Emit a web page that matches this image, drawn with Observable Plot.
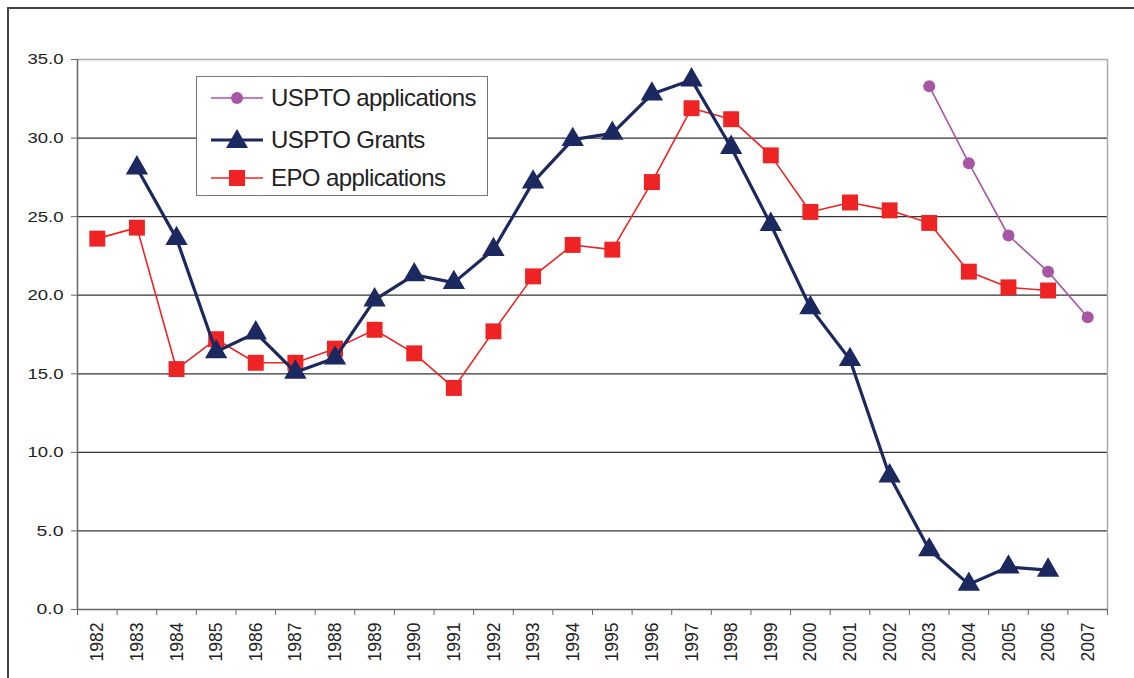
<!DOCTYPE html>
<html>
<head>
<meta charset="utf-8">
<script src="https://cdn.jsdelivr.net/npm/d3@7"></script>
<script src="https://cdn.jsdelivr.net/npm/@observablehq/plot@0.6"></script>
<style>
  html, body { margin: 0; padding: 0; background: #fff; overflow: hidden; }
  #wrap { position: relative; width: 1134px; height: 678px; overflow: hidden; font-family: Arial, "Liberation Sans", sans-serif; }
  #frame { position: absolute; left: 7px; top: 7px; width: 1200px; height: 800px; border: 2px solid #444; box-sizing: border-box; }
  #chart { position: absolute; left: 0; top: 0; }
  #legend { position: absolute; left: 196px; top: 76px; width: 292px; height: 120px; box-sizing: border-box;
            border: 1.5px solid #777; background: #fff; }
  .lrow { position: absolute; left: 14px; height: 30px; display: flex; align-items: center; }
  .lrow span { font-size: 24px; letter-spacing: -0.6px; color: #222; margin-left: 8px; white-space: nowrap; }
</style>
</head>
<body>
<div id="wrap">
  <div id="frame"></div>
  <div id="chart"></div>
  <div id="legend"></div>
</div>
<script>
const years = [1982,1983,1984,1985,1986,1987,1988,1989,1990,1991,1992,1993,1994,1995,1996,1997,1998,1999,2000,2001,2002,2003,2004,2005,2006,2007];
const usptoApplications = [null,null,null,null,null,null,null,null,null,null,null,null,null,null,null,null,null,null,null,null,null,33.3,28.4,23.8,21.5,18.6];
const usptoGrants = [null,28.1,23.6,16.4,17.6,15.1,16.0,19.7,21.3,20.8,22.9,27.2,29.9,30.3,32.8,33.7,29.4,24.5,19.2,15.9,8.5,3.8,1.6,2.7,2.5,null];
const epoApplications = [23.6,24.3,15.3,17.2,15.7,15.7,16.6,17.8,16.3,14.1,17.7,21.2,23.2,22.9,27.2,31.9,31.2,28.9,25.3,25.9,25.4,24.6,21.5,20.5,20.3,null];
const yTicks = [0,5,10,15,20,25,30,35];
const seriesNames = ["USPTO applications","USPTO Grants","EPO applications"];
const seriesColors = ["#a855a6","#1c2860","#ee2424"];

const toRows = (vals) => years.map((y, i) => ({year: y, value: vals[i]})).filter(d => d.value != null);
const apps = toRows(usptoApplications);
const grants = toRows(usptoGrants);
const epo = toRows(epoApplications);
const boundaries = [years[0] - 0.5, ...years.map(y => y + 0.5)];

const chart = Plot.plot({
  width: 1134,
  height: 678,
  marginLeft: 77,
  marginRight: 27,
  marginTop: 59,
  marginBottom: 69,
  style: {fontFamily: "Arial, 'Liberation Sans', sans-serif", background: "transparent", overflow: "visible"},
  x: {type: "linear", domain: [years[0] - 0.5, years[years.length - 1] + 0.5]},
  y: {domain: [0, 35]},
  marks: [
    Plot.ruleY(yTicks.filter(t => t > 0 && t < 35), {stroke: "#333", strokeWidth: 1.2}),
    Plot.ruleY([35], {stroke: "#aaa", strokeWidth: 1.5}),
    Plot.ruleX([boundaries[boundaries.length - 1]], {stroke: "#aaa", strokeWidth: 1.5}),
    Plot.ruleY([0], {stroke: "#666", strokeWidth: 1.5}),
    Plot.ruleX([boundaries[0]], {stroke: "#666", strokeWidth: 1.5}),
    Plot.axisY(yTicks, {tickSize: 6, tickPadding: 8, tickFormat: d => d.toFixed(1), fontSize: 15.5, stroke: "#666", color: "#222", label: null}),
    Plot.axisX(boundaries, {tickSize: 6, tickFormat: () => "", stroke: "#666", label: null}),
    Plot.axisX(years, {tickSize: 0, tickPadding: 13, tickRotate: -90, tickFormat: d => String(d), fontSize: 19, color: "#222", label: null}),
    Plot.line(epo, {x: "year", y: "value", stroke: seriesColors[2], strokeWidth: 1.6}),
    Plot.dot(epo, {x: "year", y: "value", symbol: "square", r: 9, fill: seriesColors[2], stroke: "none"}),
    Plot.line(grants, {x: "year", y: "value", stroke: seriesColors[1], strokeWidth: 3.2}),
    Plot.dot(grants, {x: "year", y: "value", symbol: "triangle", r: 8.3, fill: seriesColors[1], stroke: "none"}),
    Plot.line(apps, {x: "year", y: "value", stroke: seriesColors[0], strokeWidth: 1.6}),
    Plot.dot(apps, {x: "year", y: "value", symbol: "circle", r: 6, fill: seriesColors[0], stroke: "none"})
  ]
});
// stretch y tick labels horizontally and condense x tick labels like the reference
chart.querySelectorAll('g[aria-label="y-axis tick label"] text').forEach(t => {
  const n = t.textContent.length;
  t.setAttribute("textLength", n === 4 ? 36 : 27);
  t.setAttribute("lengthAdjust", "spacingAndGlyphs");
});
chart.querySelectorAll('g[aria-label="x-axis tick label"] text').forEach(t => {
  if (t.textContent.length === 4) {
    t.setAttribute("textLength", 39);
    t.setAttribute("lengthAdjust", "spacingAndGlyphs");
  }
});
document.getElementById("chart").appendChild(chart);

// Legend
const legend = document.getElementById("legend");
const symbols = [
  `<circle cx="26" cy="15" r="6" fill="${seriesColors[0]}"/>`,
  `<path d="M26,4 L37,23 L15,23 Z" fill="${seriesColors[1]}"/>`,
  `<rect x="18" y="7" width="16" height="16" fill="${seriesColors[2]}"/>`
];
const widths = [1.6, 3.2, 1.6];
const tops = [6, 48, 86];
seriesNames.forEach((name, i) => {
  const row = document.createElement("div");
  row.className = "lrow";
  row.style.top = tops[i] + "px";
  row.innerHTML = `<svg width="52" height="30"><line x1="0" y1="15" x2="52" y2="15" stroke="${seriesColors[i]}" stroke-width="${widths[i]}"/>${symbols[i]}</svg><span>${name}</span>`;
  legend.appendChild(row);
});
</script>
</body>
</html>
